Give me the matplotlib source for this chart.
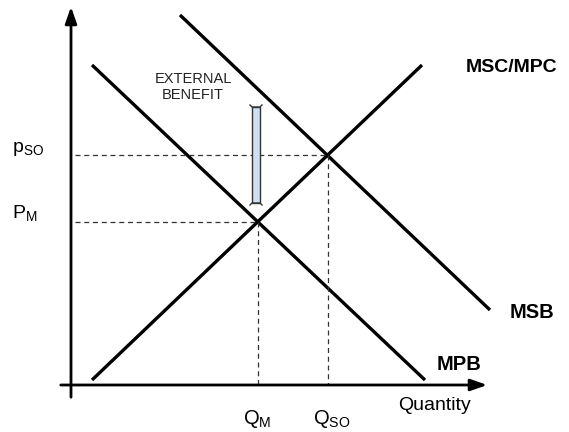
import matplotlib
matplotlib.use('Agg')
import matplotlib.pyplot as plt
from matplotlib.patches import Rectangle

plt.rcParams['font.family'] = ['Liberation Sans', 'DejaVu Sans']
plt.rcParams['mathtext.fontset'] = 'custom'
plt.rcParams['mathtext.rm'] = 'Liberation Sans'

# Curve endpoints (quantity, price) in diagram units
msc_q = [92, 422]
msc_p = [52, 367]
mpb_q = [92, 425]
mpb_p = [367, 52]
msb_q = [180, 490]
msb_p = [417, 122]

# Equilibria
q_m, p_m = 258, 210
q_so, p_so = 328, 277

# External benefit gap
eb_top, eb_bottom = 327, 227
eb_q = 256

fig = plt.figure(figsize=(5.69, 4.32), dpi=100)
ax = fig.add_axes([0, 0, 1, 1])
ax.set_xlim(0, 569)
ax.set_ylim(0, 432)
ax.axis('off')

# Axes with arrows
origin_q, origin_p = 71, 47
ax.annotate('', xy=(origin_q, 428), xytext=(origin_q, 32),
            arrowprops=dict(arrowstyle='-|>,head_length=1.0,head_width=0.35',
                            color='black', lw=2))
ax.annotate('', xy=(490, origin_p), xytext=(58, origin_p),
            arrowprops=dict(arrowstyle='-|>,head_length=1.0,head_width=0.35',
                            color='black', lw=2))

# Curves
ax.plot(msc_q, msc_p, color='black', lw=2.4, solid_capstyle='butt')
ax.plot(mpb_q, mpb_p, color='black', lw=2.4, solid_capstyle='butt')
ax.plot(msb_q, msb_p, color='black', lw=2.4, solid_capstyle='butt')

# Dashed guides
dash = dict(color='#333333', lw=0.9, ls=(0, (4, 3)))
ax.plot([origin_q + 4, q_so], [p_so, p_so], **dash)
ax.plot([q_so, q_so], [p_so, origin_p], **dash)
ax.plot([origin_q + 4, q_m], [p_m, p_m], **dash)
ax.plot([q_m, q_m], [p_m, origin_p], **dash)

# External benefit bar with end caps
ax.add_patch(Rectangle((eb_q - 4, eb_bottom + 2), 8, eb_top - eb_bottom - 4,
                       facecolor='#cfe0f2', edgecolor='#333333', lw=1,
                       zorder=4))
for y, d in [(eb_top, -1), (eb_bottom, 1)]:
    ax.plot([eb_q - 6, eb_q - 4, eb_q + 4, eb_q + 6],
            [y, y + 2 * d, y + 2 * d, y], color='#333333', lw=1, zorder=5)
ax.text(193, 345, 'EXTERNAL\nBENEFIT', ha='center', va='center',
        fontsize=10.5, linespacing=1.25, color='#222222')

# Labels
ax.text(466, 364, 'MSC/MPC', fontsize=14, fontweight='bold', va='center')
ax.text(510, 120, 'MSB', fontsize=14.5, fontweight='bold', va='center')
ax.text(437, 68, 'MPB', fontsize=14.5, fontweight='bold', va='center')
ax.text(398, 27, 'Quantity', fontsize=14, va='center')
ax.text(12, p_so + 6, r'p$_{\rm SO}$', fontsize=14, va='center')
ax.text(12, p_m + 8, r'P$_{\rm M}$', fontsize=14, va='center')
ax.text(q_m - 15, 13, r'Q$_{\rm M}$', fontsize=14.5, va='center')
ax.text(q_so - 15, 13, r'Q$_{\rm SO}$', fontsize=14.5, va='center')

fig.savefig('out.png', dpi=100)
